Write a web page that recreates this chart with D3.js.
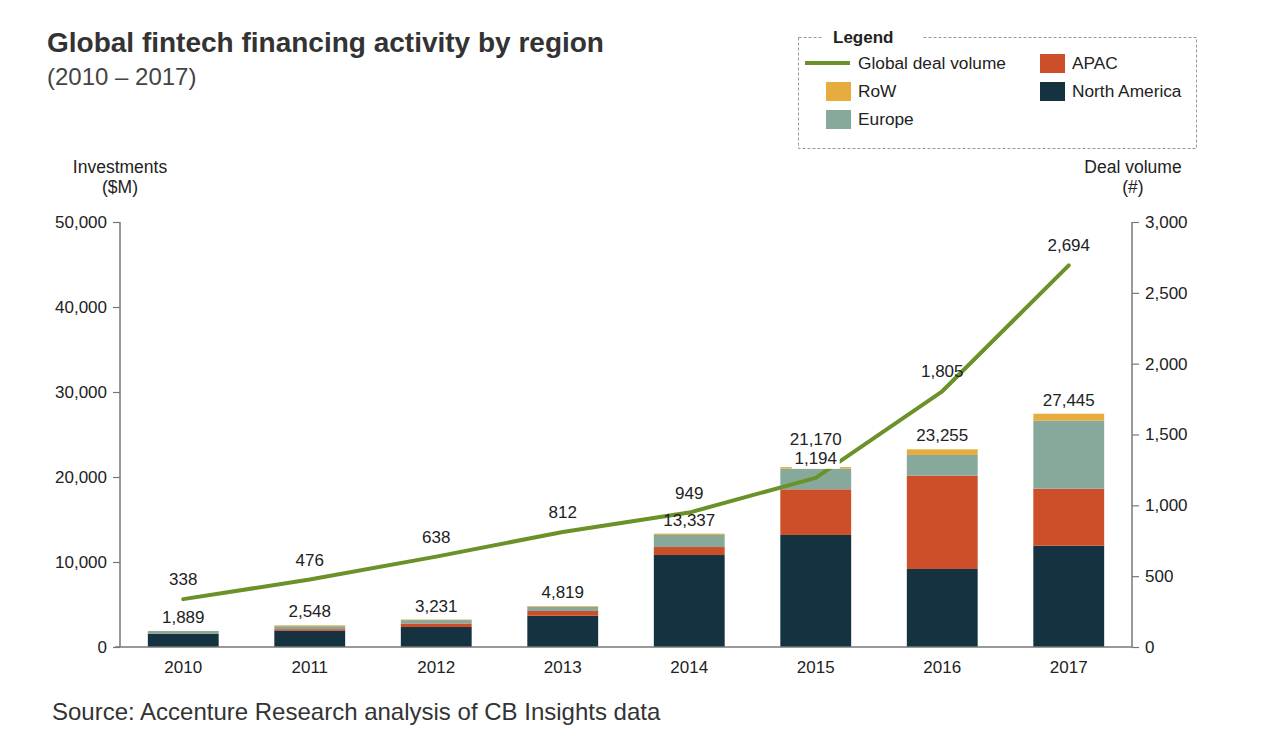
<!DOCTYPE html>
<html><head><meta charset="utf-8">
<script src="https://cdn.jsdelivr.net/npm/d3@7"></script>
<style>
body{margin:0;background:#fff;}
text{font-family:"Liberation Sans",Arial,sans-serif;fill:#222;}
</style></head>
<body>
<svg id="c" width="1270" height="756"></svg>
<script>
const years = ["2010","2011","2012","2013","2014","2015","2016","2017"];
const northAmerica = [1560,1900,2350,3680,10820,13180,9180,11920];
const apac = [40,200,420,560,940,5370,10980,6710];
const europe = [280,350,400,500,1420,2430,2440,7990];
const row = [9,98,61,79,157,190,655,825];
const totals = [1889,2548,3231,4819,13337,21170,23255,27445];
const dealVolume = [338,476,638,812,949,1194,1805,2694];
const leftTicks = [0,10000,20000,30000,40000,50000];
const rightTicks = [0,500,1000,1500,2000,2500,3000];

const colors = {na:"#14323f", apac:"#cc4f2a", europe:"#86a99c", row:"#e6ac3d", line:"#6b9129"};

const svg = d3.select("#c");
const x0 = 120, x1 = 1132, yTop = 222, yBot = 647;
const x = d3.scaleBand().domain(years).range([x0,x1]).paddingInner(0.44).paddingOuter(0.22);
const yL = d3.scaleLinear().domain([0,50000]).range([yBot,yTop]);
const yR = d3.scaleLinear().domain([0,3000]).range([yBot,yTop]);
const fmt = d3.format(",");
const FONT = "Liberation Sans, Arial, sans-serif";

// title
svg.append("text").attr("x",47).attr("y",52).style("font-size","28px").style("font-weight","bold").style("fill","#333").text("Global fintech financing activity by region");
svg.append("text").attr("x",47).attr("y",85).style("font-size","24px").style("fill","#444").text("(2010 – 2017)");

// axis titles
svg.append("text").attr("x",120).attr("y",173).attr("text-anchor","middle").style("font-size","17.5px").text("Investments");
svg.append("text").attr("x",120).attr("y",193).attr("text-anchor","middle").style("font-size","17.5px").text("($M)");
svg.append("text").attr("x",1133).attr("y",173).attr("text-anchor","middle").style("font-size","17.5px").text("Deal volume");
svg.append("text").attr("x",1133).attr("y",193).attr("text-anchor","middle").style("font-size","17.5px").text("(#)");

// stacked bars
const keys = ["na","apac","europe","row"];
const table = years.map((yr,i)=>({year:yr, na:northAmerica[i], apac:apac[i], europe:europe[i], row:row[i]}));
const stack = d3.stack().keys(keys)(table);
svg.append("g").selectAll("g").data(stack).join("g").attr("fill",d=>colors[d.key])
  .selectAll("rect").data(d=>d).join("rect")
  .attr("x",d=>x(d.data.year)).attr("width",x.bandwidth())
  .attr("y",d=>yL(d[1])).attr("height",d=>yL(d[0])-yL(d[1]));

// axes
const axL = d3.axisLeft(yL).tickValues(leftTicks).tickFormat(fmt).tickSize(7).tickPadding(6);
const gL = svg.append("g").attr("transform",`translate(${x0},0)`).call(axL);
const axR = d3.axisRight(yR).tickValues(rightTicks).tickFormat(fmt).tickSize(7).tickPadding(6);
const gR = svg.append("g").attr("transform",`translate(${x1},0)`).call(axR);
[gL,gR].forEach(g=>{
  g.select(".domain").attr("stroke","#777").attr("stroke-width",1.5).attr("d",`M0,${yTop}V${yBot}`);
  g.selectAll(".tick line").attr("stroke","#777").attr("stroke-width",1.2);
  g.selectAll(".tick text").style("font-size","17px").style("font-family",FONT).attr("fill","#222");
});
const axB = d3.axisBottom(x).tickSize(0).tickPadding(14);
const gB = svg.append("g").attr("transform",`translate(0,${yBot})`).call(axB);
gB.select(".domain").attr("stroke","#777").attr("stroke-width",1.5).attr("d",`M${x0-5},0H${x1}`);
gB.selectAll(".tick text").style("font-size","17px").style("font-family",FONT).attr("fill","#222");

// line
const line = d3.line().x((d,i)=>x(years[i])+x.bandwidth()/2).y(d=>yR(d)).curve(d3.curveLinear);
svg.append("path").datum(dealVolume).attr("d",line).attr("fill","none").attr("stroke",colors.line).attr("stroke-width",4).attr("stroke-linecap","round").attr("stroke-linejoin","round");

// total labels
svg.append("g").selectAll("text").data(totals).join("text")
  .attr("x",(d,i)=>x(years[i])+x.bandwidth()/2)
  .attr("y",(d,i)=> i===5 ? yL(d)-22 : yL(d)-8)
  .attr("text-anchor","middle").style("font-size","17px").text(d=>fmt(d));

// deal labels
const dl = svg.append("g").selectAll("g").data(dealVolume).join("g")
  .attr("transform",(d,i)=>`translate(${x(years[i])+x.bandwidth()/2},${yR(d)-14})`);
dl.filter((d,i)=>i===5).append("rect").attr("x",-24).attr("y",-16).attr("width",48).attr("height",21).attr("fill","#fff");
dl.append("text").attr("text-anchor","middle").style("font-size","17px").text(d=>fmt(d));

// legend
const lg = svg.append("g");
lg.append("rect").attr("x",798.5).attr("y",37.5).attr("width",398).attr("height",111)
  .attr("fill","none").attr("stroke","#999").attr("stroke-dasharray","3,2");
lg.append("rect").attr("x",823).attr("y",28).attr("width",100).attr("height",18).attr("fill","#fff");
lg.append("text").attr("x",833).attr("y",43).style("font-size","17px").style("font-weight","bold").text("Legend");
lg.append("line").attr("x1",805).attr("x2",850).attr("y1",63).attr("y2",63).attr("stroke",colors.line).attr("stroke-width",4);
lg.append("text").attr("x",858).attr("y",69).style("font-size","17.3px").text("Global deal volume");
const items = [
  {k:"row",label:"RoW",x:826,y:91},
  {k:"europe",label:"Europe",x:826,y:119},
  {k:"apac",label:"APAC",x:1040,y:63},
  {k:"na",label:"North America",x:1040,y:91}
];
items.forEach(it=>{
  lg.append("rect").attr("x",it.x).attr("y",it.y-9).attr("width",25).attr("height",19).attr("fill",colors[it.k]);
  lg.append("text").attr("x",it.x+32).attr("y",it.y+6).style("font-size","17.3px").text(it.label);
});

// source
svg.append("text").attr("x",52).attr("y",720).style("font-size","24px").style("fill","#333").text("Source: Accenture Research analysis of CB Insights data");
</script>
</body></html>
